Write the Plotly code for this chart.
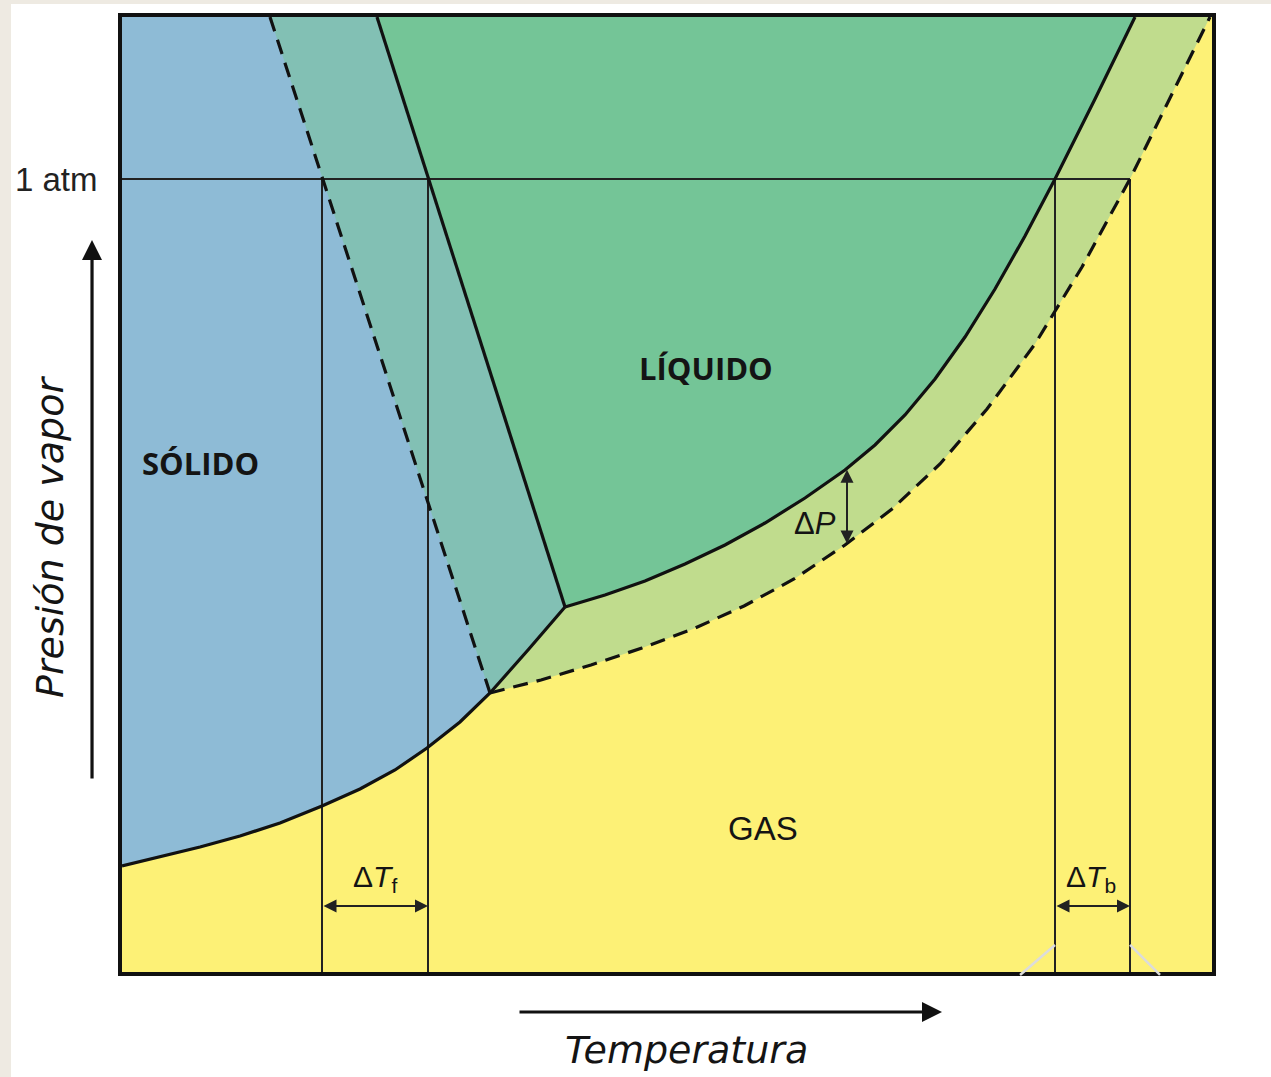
import numpy as np
import plotly.graph_objects as go

# ---------------- data (arbitrary temperature / pressure units) ----------------
T_MAX = 1090
P_MAX = 955
P_ATM = 793

# sublimation curve (solid <-> vapour) of the pure solvent
sub_T = [0, 38, 78, 118, 158, 200, 238, 273, 305, 338, 368, 406, 443]
sub_P = [106, 115, 125, 136, 149, 166, 183, 202, 224, 250, 279, 322, 365]
I_SOL = 10   # index of the solution's triple point on the sublimation curve

# fusion line, pure solvent (solid) and solution (dashed)
fus_pure_T = [255, 443]
fus_pure_P = [955, 365]
fus_sol_T = [148, 368]
fus_sol_P = [955, 279]

# vaporisation curve, pure solvent (solid)
vap_pure_T = [443, 483, 523, 563, 603, 643, 683, 723, 753, 783, 813, 843, 873, 903, 933, 973, 1013]
vap_pure_P = [365, 377, 391, 408, 427, 449, 474, 502, 527, 557, 593, 635, 683, 736, 793, 873, 955]
# vaporisation curve, solution (dashed)
vap_sol_T = [368, 419, 469, 520, 571, 622, 672, 723, 770, 818, 865, 913, 960, 1008, 1048, 1088]
vap_sol_P = [279, 292, 307, 324, 343, 366, 393, 427, 463, 508, 563, 628, 705, 793, 874, 955]

T_freeze = [200, 306]   # solution, pure solvent
T_boil = [933, 1008]    # pure solvent, solution
T_dP = 725              # where delta P is shown
P_arrow = 66            # level of the delta T arrows

# ---------------- colours ----------------
C_BLUE = "#8ebbd6"
C_TEAL = "#82c0b4"
C_GREEN = "#74c597"
C_LGREEN = "#c0dc8d"
C_YELLOW = "#fdf176"
C_LINE = "#111111"
C_THIN = "#222222"
C_BEIGE = "#eeeae2"

fig = go.Figure()


def poly(x, y, color):
    fig.add_trace(go.Scatter(x=x, y=y, mode="lines", fill="toself", fillcolor=color,
                             line=dict(width=0, color=color), hoverinfo="skip", showlegend=False))


# everything above the solution's sublimation / vaporisation curves -> light green
poly(sub_T[:I_SOL + 1] + vap_sol_T[1:] + [0], sub_P[:I_SOL + 1] + vap_sol_P[1:] + [P_MAX], C_LGREEN)
# liquid of the pure solvent
poly([fus_pure_T[0]] + vap_pure_T[::-1], [fus_pure_P[0]] + vap_pure_P[::-1], C_GREEN)
# left of the pure fusion line -> teal
poly([0] + fus_pure_T + sub_T[-2::-1], [P_MAX] + fus_pure_P + sub_P[-2::-1], C_TEAL)
# solid
poly([0] + fus_sol_T + sub_T[I_SOL - 1::-1], [P_MAX] + fus_sol_P + sub_P[I_SOL - 1::-1], C_BLUE)

# thin guide lines
gx, gy = [0, T_boil[1], None], [P_ATM, P_ATM, None]
for t in T_freeze + T_boil:
    gx += [t, t, None]
    gy += [0, P_ATM, None]
fig.add_trace(go.Scatter(x=gx, y=gy, mode="lines", line=dict(width=2, color=C_THIN),
                         hoverinfo="skip", showlegend=False))


def curve(x, y, dash="solid"):
    fig.add_trace(go.Scatter(x=x, y=y, mode="lines",
                             line=dict(width=3.2, color=C_LINE, dash=dash),
                             hoverinfo="skip", showlegend=False))


curve(sub_T, sub_P)
curve(fus_pure_T, fus_pure_P)
curve(vap_pure_T, vap_pure_P)
curve(fus_sol_T, fus_sol_P, "15px,9px")
curve(vap_sol_T, vap_sol_P, "15px,9px")

# ---------------- annotations ----------------
ann = []
TXT = "#141414"


def label(x, y, text, size, family="Liberation Sans, Arial", bold=False, **kw):
    t = f"<b>{text}</b>" if bold else text
    d = dict(x=x, y=y, xref="x", yref="y", text=t, showarrow=False,
             xanchor="center", yanchor="middle",
             font=dict(size=size, family=family, color=TXT))
    d.update(kw)
    ann.append(d)


label(78, 509, "SÓLIDO", 31, "Open Sans", True)
label(584, 604, "LÍQUIDO", 31, "Open Sans", True)
label(641, 144, "GAS", 33)
label(253, 94, "Δ<i>T</i><sub>f</sub>", 30)
label(969, 94, "Δ<i>T</i><sub>b</sub>", 30)
label(693, 449, "Δ<i>P</i>", 31)


def darrow(x0, y0, x1, y1):
    ann.append(dict(x=x1, y=y1, ax=x0, ay=y0, xref="x", yref="y", axref="x", ayref="y",
                    text="", showarrow=True, arrowhead=2, arrowside="end+start",
                    arrowwidth=2, arrowsize=1.3, arrowcolor=C_THIN))


darrow(T_freeze[0], P_arrow, T_freeze[1], P_arrow)
darrow(T_boil[0], P_arrow, T_boil[1], P_arrow)
dp_top = float(np.interp(T_dP, vap_pure_T, vap_pure_P))
dp_bot = float(np.interp(T_dP, vap_sol_T, vap_sol_P))
darrow(T_dP, dp_top, T_dP, dp_bot)

# "1 atm"
ann.append(dict(x=-0.0205, y=P_ATM, xref="paper", yref="y", text="1 atm", showarrow=False,
                xanchor="right", yanchor="middle",
                font=dict(size=33, family="Liberation Sans, Arial", color="#222")))

# axis arrows and titles (outside the plot area)
ann.append(dict(x=-0.0275, y=0.7665, xref="paper", yref="paper", ax=0, ay=540, axref="pixel",
                ayref="pixel", text="", showarrow=True, arrowhead=2, arrowwidth=3.2, arrowsize=1.25,
                arrowcolor=C_LINE))
ann.append(dict(x=0.7523, y=-0.0419, xref="paper", yref="paper", ax=-424, ay=0, axref="pixel",
                ayref="pixel", text="", showarrow=True, arrowhead=2, arrowwidth=3.2, arrowsize=1.25,
                arrowcolor=C_LINE))
ann.append(dict(x=-0.0661, y=0.4555, xref="paper", yref="paper", text="<i>Presión de vapor</i>",
                showarrow=False, textangle=-90, xanchor="center", yanchor="middle",
                font=dict(size=38, family="DejaVu Sans", color=TXT)))
ann.append(dict(x=0.5183, y=-0.0817, xref="paper", yref="paper", text="<i>Temperatura</i>",
                showarrow=False, xanchor="center", yanchor="middle",
                font=dict(size=38, family="DejaVu Sans", color=TXT)))

# ---------------- decorative shapes ----------------
shapes = [
    # beige page edges
    dict(type="rect", xref="paper", yref="paper", x0=-0.1125, x1=-0.1018, y0=-0.12, y1=1.02,
         fillcolor=C_BEIGE, line=dict(width=0), layer="below"),
    dict(type="rect", xref="paper", yref="paper", x0=-0.1125, x1=1.06, y0=1.0137, y1=1.02,
         fillcolor=C_BEIGE, line=dict(width=0), layer="below"),
    # light callout strokes at the bottom right
    dict(type="line", xref="paper", yref="paper", x0=0.8560, y0=0.0283, x1=0.8239, y1=-0.0031,
         line=dict(color="#dcdcdc", width=2.5)),
    dict(type="line", xref="paper", yref="paper", x0=0.9248, y0=0.0283, x1=0.9523, y1=-0.0031,
         line=dict(color="#dcdcdc", width=2.5)),
]

fig.update_layout(
    width=1271, height=1077,
    margin=dict(l=122, r=59, t=17, b=105),
    paper_bgcolor="white", plot_bgcolor=C_YELLOW,
    annotations=ann, shapes=shapes, showlegend=False,
    xaxis=dict(range=[0, T_MAX], showgrid=False, zeroline=False, showticklabels=False, ticks="",
               showline=True, mirror=True, linewidth=4, linecolor=C_LINE, fixedrange=True),
    yaxis=dict(range=[0, P_MAX], showgrid=False, zeroline=False, showticklabels=False, ticks="",
               showline=True, mirror=True, linewidth=4, linecolor=C_LINE, fixedrange=True),
)

fig.write_html("out.html", config={"displayModeBar": False},
               post_script="document.body.style.margin='0';document.body.style.overflow='hidden';")
